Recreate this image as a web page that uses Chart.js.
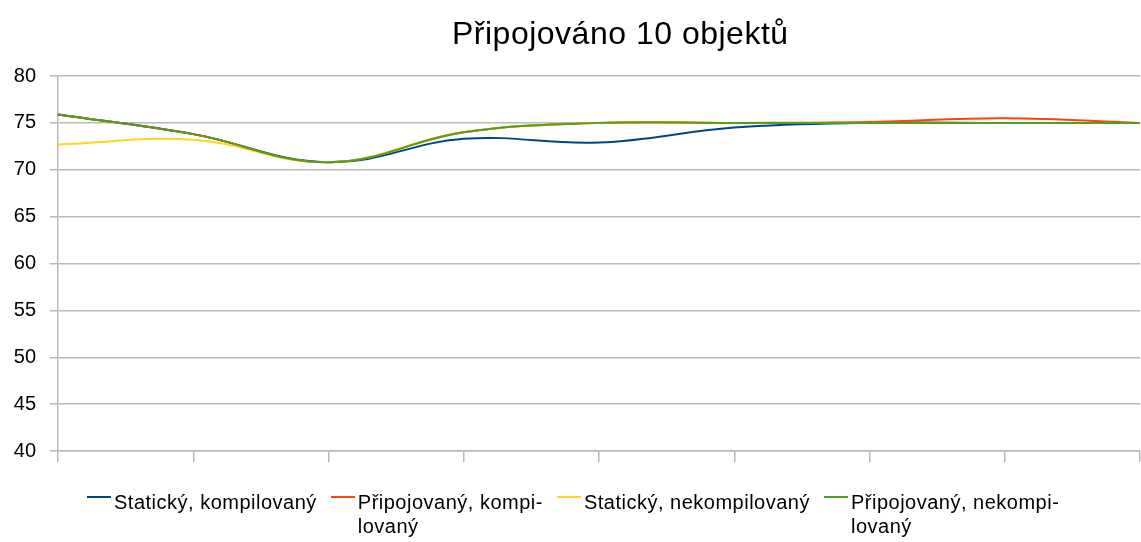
<!DOCTYPE html>
<html lang="cs">
<head>
<meta charset="utf-8">
<title>Připojováno 10 objektů</title>
<script src="https://cdn.jsdelivr.net/npm/chart.js@4/dist/chart.umd.min.js"></script>
<style>
    html, body { margin: 0; padding: 0; background: #fff; }
    #wrap { position: relative; width: 1141px; height: 542px; overflow: hidden;
            font-family: "Liberation Sans", Arial, sans-serif; color: #000; }
    #chartTitle { position: absolute; left: 452px; top: 17px; font-size: 32px;
                  line-height: 32px; letter-spacing: 0.5px; white-space: nowrap; }
    #legend { position: absolute; left: 87px; top: 490px; display: flex; align-items: flex-start; }
    .item { display: flex; align-items: flex-start; margin-right: 14px; }
    .mark { width: 24px; height: 2px; margin-top: 6px; margin-right: 3px; }
    .label { font-size: 20px; line-height: 24px; letter-spacing: 0.5px; white-space: pre; }
</style>
</head>
<body>
<div id="wrap">
    <canvas id="lineChart" width="1141" height="542"></canvas>
    <div id="chartTitle">Připojováno 10 objektů</div>
    <div id="legend"></div>
</div>
<script>
    // === Data ===
    const categories = ["1", "2", "3", "4", "5", "6", "7", "8", "9"];
    const yTicks = [40, 45, 50, 55, 60, 65, 70, 75, 80];

    const statickyKompilovany = [75.9, 73.8, 70.8, 73.3, 72.9, 74.5, 75.0, 75.0, 75.0];
    const pripojovanyKompilovany = [75.9, 73.8, 70.8, 74.0, 75.0, 75.0, 75.1, 75.5, 75.0];
    const statickyNekompilovany = [72.7, 73.2, 70.8, 74.0, 75.0, 75.0, 75.0, 75.0, 75.0];
    const pripojovanyNekompilovany = [75.9, 73.8, 70.8, 74.0, 75.0, 75.0, 75.0, 75.0, 75.0];

    const seriesNames = [
        "Statický, kompilovaný",
        "Připojovaný, kompi-\nlovaný",
        "Statický, nekompilovaný",
        "Připojovaný, nekompi-\nlovaný",
    ];
    const seriesColors = ["#004586", "#ff420e", "#ffd320", "#579d1c"];
    const seriesValues = [
        statickyKompilovany,
        pripojovanyKompilovany,
        statickyNekompilovany,
        pripojovanyNekompilovany,
    ];

    const gridColor = "#b9b9b9";

    // later series are painted over earlier ones
    const datasets = seriesValues.map((values, i) => ({
        label: seriesNames[i],
        data: values,
        borderColor: seriesColors[i],
        backgroundColor: seriesColors[i],
        borderWidth: 2,
        pointRadius: 0,
        tension: 0.4,
        fill: false,
        order: seriesValues.length - i,
    }));

    const ctx = document.getElementById("lineChart").getContext("2d");
    new Chart(ctx, {
        type: "line",
        data: { labels: categories, datasets: datasets },
        options: {
            responsive: false,
            animation: false,
            devicePixelRatio: 1,
            layout: { padding: { top: 76, right: 1, bottom: 0, left: 0 } },
            plugins: {
                legend: { display: false },
                title: { display: false },
                tooltip: { enabled: false },
            },
            scales: {
                x: {
                    offset: false,
                    ticks: { display: false },
                    grid: {
                        drawOnChartArea: false,
                        drawTicks: true,
                        tickLength: 11,
                        color: gridColor,
                        lineWidth: 1.5,
                    },
                    border: { display: true, color: gridColor, width: 1.5 },
                    afterFit: (scale) => { scale.height = 91; },
                },
                y: {
                    min: yTicks[0],
                    max: yTicks[yTicks.length - 1],
                    afterBuildTicks: (scale) => {
                        scale.ticks = yTicks.map((v) => ({ value: v }));
                    },
                    ticks: {
                        color: "#000",
                        padding: 14,
                        font: { family: "'Liberation Sans', Arial, sans-serif", size: 20 },
                    },
                    grid: {
                        color: gridColor,
                        lineWidth: 1.5,
                        drawTicks: true,
                        tickLength: 8,
                    },
                    border: { display: true, color: gridColor, width: 1.5 },
                    afterFit: (scale) => { scale.width = 58; },
                },
            },
        },
    });

    // === Legend ===
    const legend = document.getElementById("legend");
    seriesNames.forEach((name, i) => {
        const item = document.createElement("div");
        item.className = "item";
        const mark = document.createElement("div");
        mark.className = "mark";
        mark.style.background = seriesColors[i];
        const label = document.createElement("div");
        label.className = "label";
        label.textContent = name;
        item.appendChild(mark);
        item.appendChild(label);
        legend.appendChild(item);
    });
</script>
</body>
</html>
